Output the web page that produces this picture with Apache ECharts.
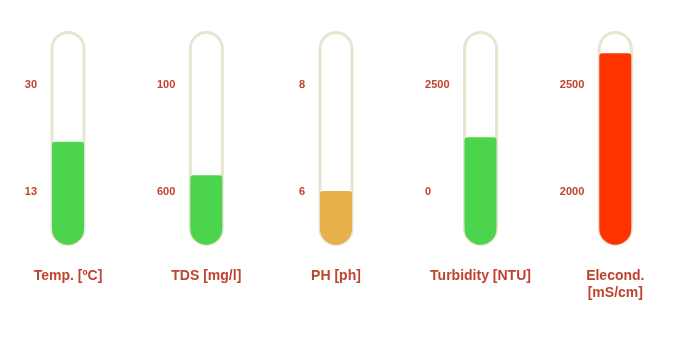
<!DOCTYPE html>
<html>
<head>
<meta charset="utf-8">
<script src="https://cdn.jsdelivr.net/npm/echarts@6/dist/echarts.min.js"></script>
<style>
html,body{margin:0;padding:0;background:#fff;}
#chart{width:685px;height:339px;}
</style>
</head>
<body>
<div id="chart"></div>
<script>
// ---- data ----
var categories = ['Temp. [ºC]', 'TDS [mg/l]', 'PH [ph]', 'Turbidity [NTU]', 'Elecond.\n[mS/cm]'];
var fillValues = [48.2, 32.5, 25.1, 50.3, 89.6];   // fill level, % of tube
var tubeMax = 100;
var upperTickLabels = ['30', '100', '8', '2500', '2500'];
var lowerTickLabels = ['13', '600', '6', '0', '2000'];

// ---- styles / layout ----
var fillColors = ['#4cd44c', '#4cd44c', '#e8b04a', '#4cd44c', '#ff3300'];
var centers = [68, 206.3, 336, 480.5, 615.3];
var textColor = '#c0432f';
var font = 'Liberation Sans';
var labelFont = 'bold 11px "' + font + '"';

var ctx = document.createElement('canvas').getContext('2d');
ctx.font = labelFont;
function textWidth(s) { return ctx.measureText(s).width; }

var chart = echarts.init(document.getElementById('chart'), null, {renderer: 'canvas'});
var grids = [], xAxes = [], yAxes = [], series = [];
categories.forEach(function (cat, i) {
  grids.push({left: centers[i] - 19, width: 38, top: 31, bottom: 93, containLabel: false});
  xAxes.push({
    type: 'category', gridIndex: i, data: [cat],
    axisLine: {show: false}, axisTick: {show: false},
    axisLabel: {margin: 22, color: textColor, fontFamily: font, fontWeight: 'bold', fontSize: 14, lineHeight: 17, interval: 0}
  });
  xAxes.push({type: 'category', gridIndex: i, data: [cat], show: false});
  var w = Math.max(textWidth(upperTickLabels[i]), textWidth(lowerTickLabels[i]));
  yAxes.push({
    type: 'value', gridIndex: i, min: 0, max: tubeMax, interval: 25,
    axisLine: {show: false}, axisTick: {show: false}, splitLine: {show: false},
    axisLabel: {
      margin: 12 + w, align: 'left', color: textColor, fontFamily: font, fontWeight: 'bold', fontSize: 11,
      formatter: (function (k) {
        return function (v) {
          if (v === 75) return upperTickLabels[k];
          if (v === 25) return lowerTickLabels[k];
          return '';
        };
      })(i)
    }
  });
  // hidden axis for the liquid: zero sits just above the tube's bottom wall
  yAxes.push({type: 'value', gridIndex: i, min: -0.6, max: tubeMax, show: false});
  series.push({
    type: 'bar', xAxisIndex: 2 * i + 1, yAxisIndex: 2 * i, barWidth: 35, silent: true,
    data: [tubeMax], z: 1,
    itemStyle: {color: '#ffffff', borderColor: '#e6e6d0', borderWidth: 3, borderRadius: 17.5}
  });
  series.push({
    type: 'bar', xAxisIndex: 2 * i, yAxisIndex: 2 * i + 1, barWidth: 32,
    data: [fillValues[i]], z: 2,
    itemStyle: {color: fillColors[i], borderRadius: [3, 3, 16, 16]}
  });
});

chart.setOption({
  animation: false,
  grid: grids,
  xAxis: xAxes,
  yAxis: yAxes,
  series: series
});
</script>
</body>
</html>
